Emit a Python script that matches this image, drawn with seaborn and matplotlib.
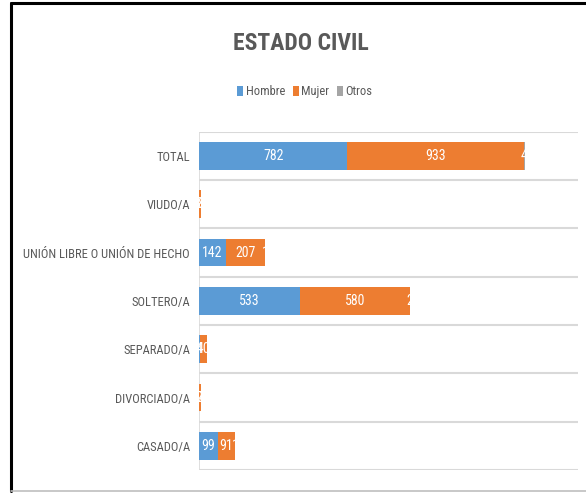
import matplotlib
matplotlib.use("Agg")
import matplotlib.pyplot as plt
import seaborn as sns
import pandas as pd
import numpy as np
from matplotlib.lines import Line2D
from matplotlib.patches import Patch
from matplotlib import font_manager as fm

categories = ["TOTAL", "VIUDO/A", "UNIÓN LIBRE O UNIÓN DE HECHO", "SOLTERO/A",
              "SEPARADO/A", "DIVORCIADO/A", "CASADO/A"]
hombre = [782, 2, 142, 533, 4, 2, 99]
mujer = [933, 8, 207, 580, 40, 7, 91]
otros = [4, 0, 1, 2, 0, 0, 1]
series_names = ["Hombre", "Mujer", "Otros"]
colors = ["#5B9BD5", "#ED7D31", "#A5A5A5"]

sns.set_theme(style="white")
regular = set(f.name for f in fm.fontManager.ttflist
              if f.weight in (400, "normal", "regular") and f.style == "normal")
prefs = ["Roboto Condensed", "Archivo Narrow", "PT Sans Narrow", "Asap Condensed",
         "Barlow Semi Condensed", "Open Sans Condensed"]
main = next((p for p in prefs if p in regular), "DejaVu Sans")
FONT = [main, "DejaVu Sans"]
plt.rcParams["font.family"] = FONT

df = pd.DataFrame({"cat": categories, "Hombre": hombre, "Mujer": mujer, "Otros": otros})
df["c1"] = df["Hombre"]
df["c2"] = df["Hombre"] + df["Mujer"]
df["c3"] = df["c2"] + df["Otros"]

fig = plt.figure(figsize=(5.86, 4.93), dpi=100)
ax = fig.add_axes([199/586, 1-470/493, (578-199)/586, (470-131.7)/493])

for col, colr in zip(["c3", "c2", "c1"], colors[::-1]):
    sns.barplot(data=df, y="cat", x=col, order=categories, color=colr,
                orient="h", width=0.57, ax=ax, saturation=1, linewidth=0)

ax.set_xlim(0, 2000)
ax.set_ylim(6.5, -0.5)
for y in np.arange(-0.5, 7.0, 1.0):
    ax.axhline(y, color="#D9D9D9", lw=1.5, zorder=0.5)
ax.axvline(0, color="#D9D9D9", lw=1.2, zorder=0.5)
for s in ax.spines.values():
    s.set_visible(False)
ax.set_xticks([])
ax.set_xlabel("")
ax.set_ylabel("")
ax.tick_params(axis="y", length=0, pad=6.5, labelsize=9, labelcolor="#595959")

# data labels
for i in range(len(categories)):
    starts = [0, hombre[i], hombre[i] + mujer[i]]
    vals = [hombre[i], mujer[i], otros[i]]
    for s0, v in zip(starts, vals):
        if v > 0:
            ax.text(s0 + v/2, i, str(v), ha="center", va="center",
                    color="white", fontsize=10, clip_on=True)

fig.text(0.513, 1-44/493, "ESTADO CIVIL", ha="center", va="center",
         fontsize=17, fontweight="bold", color="#595959")

handles = [Patch(facecolor=c, edgecolor="none") for c in colors]
fig.legend(handles, series_names, loc="center", bbox_to_anchor=(0.52, 1-92/493),
           ncol=3, frameon=False, fontsize=9, handlelength=0.5, handleheight=0.9,
           handletextpad=0.2, columnspacing=0.6, labelcolor="#595959")

# chart frame
fig.add_artist(Line2D([11/586, 11/586], [1-491/493, 1-3/493], color="black", lw=2.2,
                      transform=fig.transFigure))
fig.add_artist(Line2D([11/586, 1], [1-3/493, 1-3/493], color="black", lw=2.2,
                      transform=fig.transFigure))
fig.add_artist(Line2D([11/586, 1], [1-491/493, 1-491/493], color="#BFBFBF", lw=1.2,
                      transform=fig.transFigure))

fig.savefig("out.png", dpi=100)
